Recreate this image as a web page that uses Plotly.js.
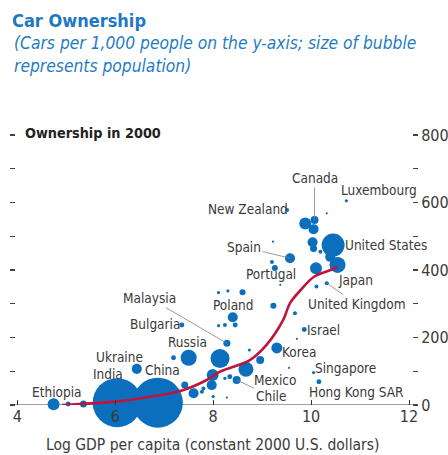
<!DOCTYPE html>
<html>
<head>
<meta charset="utf-8">
<script src="https://cdn.plot.ly/plotly-3.0.1.min.js"></script>
<style>html,body{margin:0;padding:0;background:#fff;}#chart{width:448px;height:455px;}</style>
</head>
<body>
<div id="chart"></div>
<script>
// ---- DATA ----
const countries = ['Ethiopia','','','India','China','Ukraine','','Russia','Bulgaria','','Malaysia','','','','','Poland','','','','','','Mexico','Chile','','','','','','','','','','','Korea','','Singapore','Hong Kong SAR','Israel','','','','New Zealand','','','Canada','','','','United States','','','Japan','','Spain','','United Kingdom','Portugal','','','Luxembourg'];
const logGdp = [4.74,5.04,5.35,6.04,6.87,6.44,7.19,7.50,7.36,8.14,8.28,8.11,8.30,8.60,9.23,8.40,8.45,8.11,8.24,8.74,8.96,8.67,8.48,7.99,7.97,7.80,8.00,8.28,8.34,8.24,7.42,7.60,7.77,9.30,9.55,10.05,10.16,9.86,9.71,9.67,9.37,9.51,10.32,9.88,10.07,10.05,10.03,10.05,10.45,10.19,10.39,10.54,10.10,9.57,10.11,10.32,9.20,9.26,9.22,10.72];
const carsPer1000 = [2,3,3,7,7,107,140,140,237,138,183,333,338,334,294,260,237,235,237,163,133,106,74,89,59,49,25,22,84,79,59,35,39,169,110,96,69,224,196,272,356,578,568,538,548,521,482,464,474,454,439,415,405,435,351,361,424,406,484,605];
const population = [58,10,20,975,1016,41,10,104,10,147,20,4,4,15,15,41,10,4,6.5,4,26,91,26,58,41,6.5,4,2,10,4,20,41,6.5,49,2,4,10,10,2,6.5,2,6.5,2,58,26,41,41,20,215,6.5,41,104,58,41,6.5,6.5,6.5,15,2,4];
// fitted curve
const curveX = [4.91,6.00,6.57,7.38,7.87,8.14,8.75,9.09,9.43,9.57,9.79,10.06,10.40,10.54];
const curveY = [0,10,21,44,74,99,133,178,252,302,341,380,400,410];
// axis ticks
const xTicks = [4,6,8,10,12];
const yTicks = [0,100,200,300,400,500,600,700,800];
const yTickText = ['0','','200','','400','','600','','800'];

// ---- STYLE ----
const FONT = "'DejaVu Sans Condensed','Liberation Sans Narrow',sans-serif";
const BLUE = '#0b6fbd';
const TEXT = '#3a3a3a';
const LABEL_SIZE = 13.5;

const bubbles = {
  type: 'scatter', mode: 'markers',
  x: logGdp, y: carsPer1000, text: countries,
  cliponaxis: false,
  marker: { size: population, sizemode: 'area', sizeref: 0.8128, color: BLUE, line: { width: 0 }, opacity: 1 },
  hoverinfo: 'text', showlegend: false
};
const curve = {
  type: 'scatter', mode: 'lines', x: curveX, y: curveY, cliponaxis: false,
  line: { color: '#c0143c', width: 2.6, shape: 'spline', smoothing: 1 },
  hoverinfo: 'skip', showlegend: false
};

function idx(name){ return countries.indexOf(name); }

// plain labels: [name, x, y] in data space
const plainLabels = [
  ['Ethiopia',4.79,38],['Ukraine',6.09,142],['India',5.85,92],['China',6.97,104],
  ['Russia',7.48,187],['Bulgaria',6.82,240],['Poland',8.41,296],['Portugal',9.18,388],
  ['New Zealand',8.71,582],['Luxembourg',11.38,637],['United States',11.54,474],
  ['Japan',10.90,370],['Israel',10.26,222],['Korea',9.75,158],['Singapore',10.71,110],
  ['Hong Kong SAR',10.93,38],['Mexico',9.26,74]
];
// leader labels: [name, ax, ay] pixel offsets from the bubble
const leaderLabels = [
  ['Malaysia',-77,-45],['Spain',-46,-11],['Canada',0,-42],['United Kingdom',30,21],['Chile',34,16]
];

const annotations = [];
plainLabels.forEach(l => annotations.push({
  text: l[0], x: l[1], y: l[2], xref: 'x', yref: 'y', showarrow: false,
  font: { family: FONT, size: LABEL_SIZE, color: TEXT }
}));
leaderLabels.forEach(l => { const i = idx(l[0]); annotations.push({
  text: l[0], x: logGdp[i], y: carsPer1000[i], xref: 'x', yref: 'y',
  showarrow: true, arrowhead: 0, arrowwidth: 0.8, arrowcolor: '#808080', ax: l[1], ay: l[2], standoff: 0,
  font: { family: FONT, size: LABEL_SIZE, color: TEXT }
}); });
annotations.push({ text: '<i>(Cars per 1,000 people on the y-axis; size of bubble</i>', xref: 'paper', yref: 'paper', x: -0.0101, y: 1.279, xanchor: 'left', yanchor: 'middle', showarrow: false, font: { family: FONT, size: 17.3, color: '#1f7cc4' } });
annotations.push({ text: '<i>represents population)</i>', xref: 'paper', yref: 'paper', x: -0.0101, y: 1.198, xanchor: 'left', yanchor: 'middle', showarrow: false, font: { family: FONT, size: 17.3, color: '#1f7cc4' } });
annotations.push({ text: '<b>Ownership in 2000</b>', xref: 'paper', yref: 'paper', x: 0.0177, y: 0.961, xanchor: 'left', yanchor: 'middle', showarrow: false, font: { family: FONT, size: 14.3, color: '#222' } });
annotations.push({ text: 'Log GDP per capita (constant 2000 U.S. dollars)', xref: 'paper', yref: 'paper', x: 0.4987, y: -0.1413, xanchor: 'center', yanchor: 'middle', showarrow: false, font: { family: FONT, size: 15.5, color: TEXT } });

const layout = {
  width: 448, height: 455,
  margin: { l: 16, r: 36, t: 122, b: 50, pad: 0 },
  paper_bgcolor: '#fff', plot_bgcolor: '#fff',
  title: { text: '<b>Car Ownership</b>', x: 12/448, xanchor: 'left', xref: 'container', y: 1 - 21/455, yanchor: 'middle', yref: 'container', font: { family: FONT, size: 18, color: '#1f78c1' } },
  xaxis: { range: [3.973, 12.061], tickvals: xTicks, ticks: 'inside', ticklen: 5, tickwidth: 1, tickcolor: '#333',
           showline: false, showgrid: false, zeroline: false, tickfont: { family: FONT, size: 16, color: TEXT }, fixedrange: true },
  yaxis: { range: [0, 838.5], side: 'right', tickvals: yTicks, ticktext: yTickText, ticks: 'outside', ticklen: 5, tickwidth: 1.2, tickcolor: '#444',
           mirror: 'ticks', showline: false, showgrid: false, zeroline: false, tickfont: { family: FONT, size: 16, color: TEXT }, fixedrange: true },
  shapes: [{ type: 'line', xref: 'paper', yref: 'y', x0: -0.0101, x1: 1.0025, y0: 0, y1: 0, layer: 'below', line: { color: '#444', width: 1.2 } }],
  annotations: annotations,
  showlegend: false
};

Plotly.newPlot('chart', [bubbles, curve], layout, { staticPlot: true, displayModeBar: false });
</script>
</body>
</html>
